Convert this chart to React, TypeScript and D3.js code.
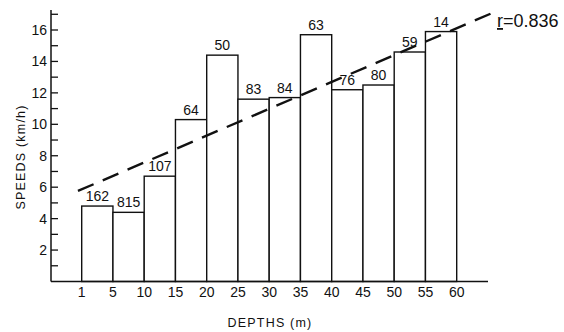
import React from "react";
import * as d3 from "d3";

const depthLabels = ["1", "5", "10", "15", "20", "25", "30", "35", "40", "45", "50", "55", "60"];
const speeds = [4.8, 4.4, 6.7, 10.3, 14.4, 11.6, 11.7, 15.7, 12.2, 12.5, 14.6, 15.9];
const counts = ["162", "815", "107", "64", "50", "83", "84", "63", "76", "80", "59", "14"];
const yTickLabels = [2, 4, 6, 8, 10, 12, 14, 16];
const yMinorTicks = [1, 3, 5, 7, 9, 11, 13, 15, 17];
const regX = [-0.12, 13.1];
const regY = [5.76, 17.05];
const rText = "0.836";

const W = 564;
const H = 332;
const FONT = "'Liberation Sans', Arial, sans-serif";

export default function App() {
  const x = d3.scaleLinear().domain([0, 12]).range([81.7, 456.7]);
  const y = d3.scaleLinear().domain([0, 16]).range([281.5, 30]);
  const axisLeft = 51;
  const axisRight = 488;
  const axisTop = 10;
  const base = y(0);
  const line = d3
    .line<number>()
    .x((_, i) => x(regX[i]))
    .y((d) => y(d));

  return (
    <svg
      width={W}
      height={H}
      viewBox={`0 0 ${W} ${H}`}
      style={{ position: "absolute", left: 0, top: 0, background: "#fff" }}
      fontFamily={FONT}
    >
      <rect x={0} y={0} width={W} height={H} fill="#fff" />
      {/* bars */}
      {speeds.map((v, i) => (
        <rect
          key={i}
          x={x(i)}
          y={y(v)}
          width={x(i + 1) - x(i)}
          height={base - y(v)}
          fill="#fff"
          stroke="#111"
          strokeWidth={1.4}
        />
      ))}
      {/* count labels */}
      {counts.map((c, i) => (
        <text
          key={i}
          x={(x(i) + x(i + 1)) / 2}
          y={y(speeds[i]) - 5}
          textAnchor="middle"
          fontSize={14}
          fill="#111"
        >
          {c}
        </text>
      ))}
      {/* regression line */}
      <path
        d={line(regY) || ""}
        fill="none"
        stroke="#111"
        strokeWidth={2.4}
        strokeDasharray="17 10"
      />
      {/* axes */}
      <line x1={axisLeft} x2={axisLeft} y1={axisTop} y2={base} stroke="#111" strokeWidth={1.5} />
      <line x1={axisLeft} x2={axisRight} y1={base} y2={base} stroke="#111" strokeWidth={1.5} />
      {yTickLabels.map((t) => (
        <g key={t}>
          <line x1={axisLeft} x2={axisLeft + 7} y1={y(t)} y2={y(t)} stroke="#111" strokeWidth={1.3} />
          <text x={axisLeft - 4} y={y(t)} dy="0.35em" textAnchor="end" fontSize={14} fill="#111">
            {t}
          </text>
        </g>
      ))}
      {yMinorTicks.map((t) => (
        <line key={t} x1={axisLeft} x2={axisLeft + 7} y1={y(t)} y2={y(t)} stroke="#111" strokeWidth={1.3} />
      ))}
      {depthLabels.map((l, i) => (
        <text key={l} x={x(i)} y={base + 15.5} textAnchor="middle" fontSize={14} fill="#111">
          {l}
        </text>
      ))}
      {/* axis titles */}
      <text
        x={270}
        y={327}
        textAnchor="middle"
        fontSize={12.5}
        letterSpacing={1.2}
        fill="#111"
      >
        DEPTHS (m)
      </text>
      <text
        transform={`translate(25, 157) rotate(-90)`}
        textAnchor="middle"
        fontSize={12.5}
        letterSpacing={1.2}
        fill="#111"
      >
        SPEEDS (km/h)
      </text>
      {/* r annotation */}
      <text x={497} y={27} fontSize={18} fill="#111">
        <tspan textDecoration="underline">r</tspan>
        <tspan>{"=" + rText}</tspan>
      </text>
    </svg>
  );
}
